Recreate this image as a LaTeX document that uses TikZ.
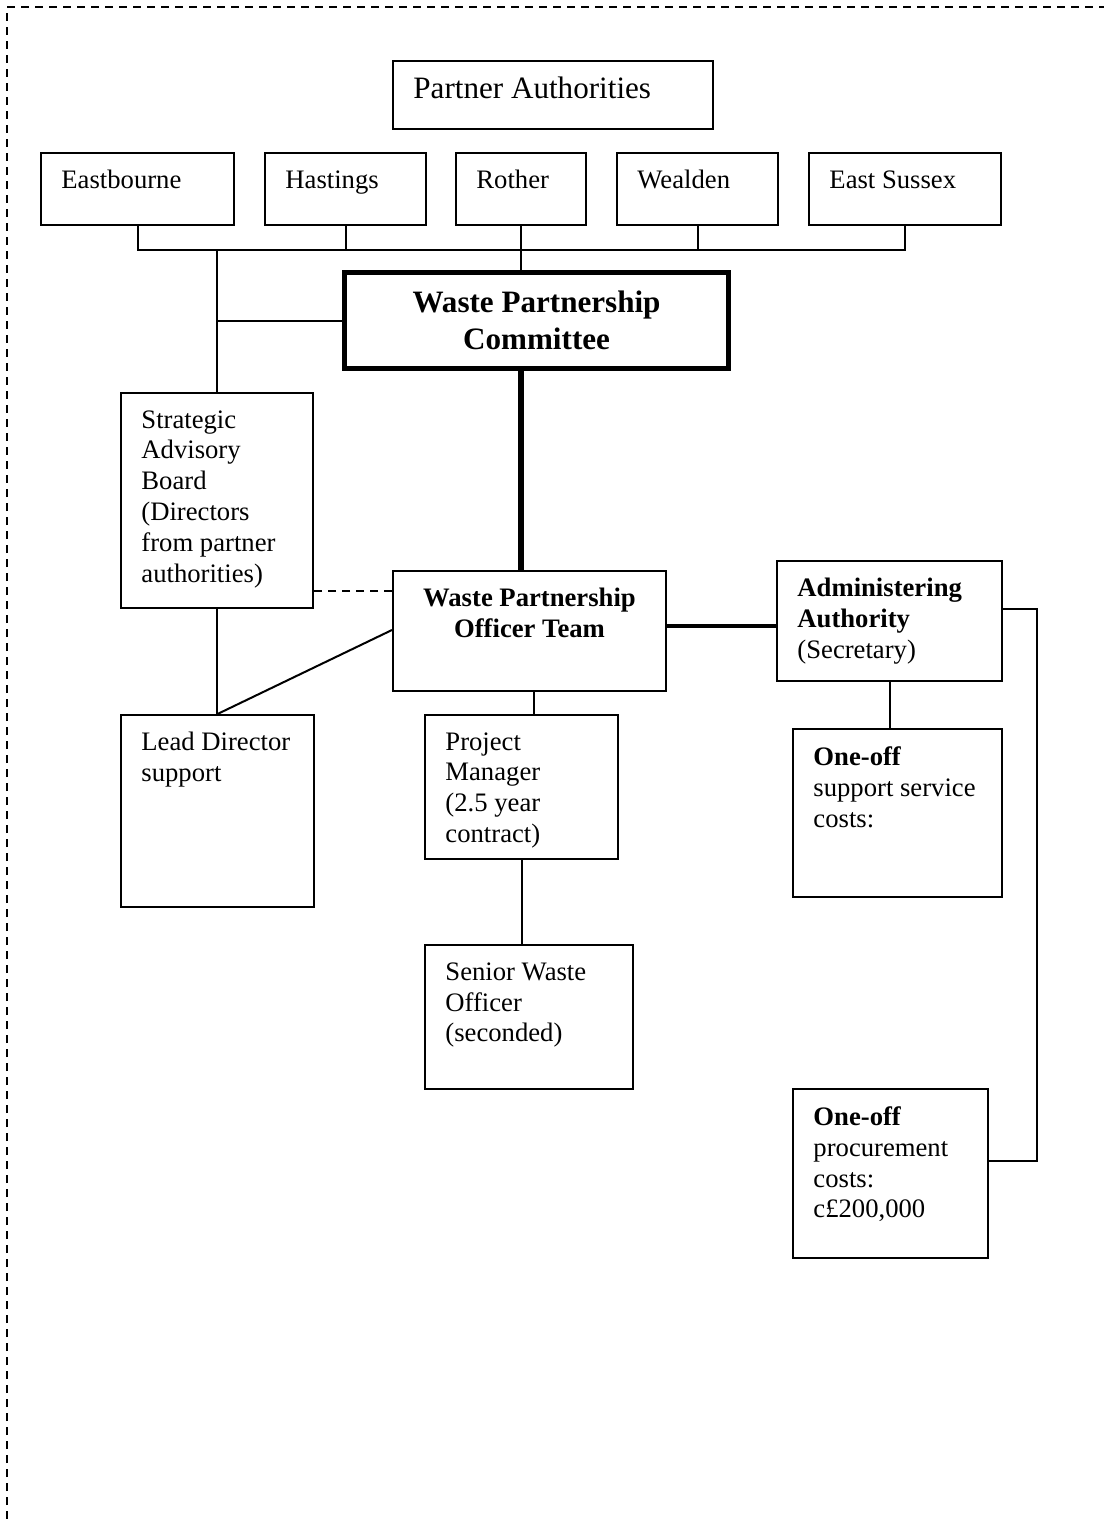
\documentclass[tikz,border=0pt]{standalone}
\usepackage{fontspec}
\setmainfont{Liberation Serif}
\usetikzlibrary{calc}

\begin{document}
\begin{tikzpicture}[
  x=0.45pt, y=-0.45pt,
  every node/.style={font=\fontsize{12}{13.9}\selectfont},
  orgbox/.style={draw, line width=0.9pt, anchor=north west, inner sep=0pt},
  sz/.style 2 args={minimum width=#1*0.45pt, minimum height=#2*0.45pt},
  txt/.style={anchor=north west, inner sep=0pt, align=left},
  conn/.style={line width=0.9pt},
  heavy/.style={line width=2.3pt},
  link/.style={line width=1.6pt},
  dashlink/.style={line width=0.9pt, dash pattern=on 3.4pt off 2.9pt},
]
\useasboundingbox (0,0) rectangle (1104,1519);

%% ── Page frame ────────────────────────────────────────────────────────────
\draw[dashlink] (7,1519) -- (7,7) -- (1104,7);

%% ── Partner authorities ───────────────────────────────────────────────────
\node[orgbox, sz={320}{68}] (partner) at (392,60) {};
\node[txt, font=\fontsize{14}{16.6}\selectfont] (partnertxt)
  at ($(partner.north west)+(21,16)$) {Partner Authorities};

\node[orgbox, sz={193}{72}] (eastb) at (40,152)  {};
\node[orgbox, sz={161}{72}] (hast)  at (264,152) {};
\node[orgbox, sz={130}{72}] (roth)  at (455,152) {};
\node[orgbox, sz={161}{72}] (weald) at (616,152) {};
\node[orgbox, sz={192}{72}] (esx)   at (808,152) {};
\node[txt] (eastbtxt) at ($(eastb.north west)+(21,18)$) {Eastbourne};
\node[txt] (hasttxt)  at ($(hast.north west)+(21,18)$)  {Hastings};
\node[txt] (rothtxt)  at ($(roth.north west)+(21,18)$)  {Rother};
\node[txt] (wealdtxt) at ($(weald.north west)+(21,18)$) {Wealden};
\node[txt] (esxtxt)   at ($(esx.north west)+(21,18)$)   {East Sussex};

%% ── Committee and officers ────────────────────────────────────────────────
\node[orgbox, line width=2.3pt, sz={384}{96}, align=center,
  font=\fontsize{14}{16.6}\selectfont\bfseries] (wpc) at (342,270)
  {Waste Partnership\\Committee};

\node[orgbox, sz={192}{215}] (sab)   at (120,392) {};
\node[orgbox, sz={273}{120}] (wpot)  at (392,570) {};
\node[orgbox, sz={225}{120}] (admin) at (776,560) {};
\node[orgbox, sz={193}{192}] (lead)  at (120,714) {};
\node[orgbox, sz={193}{144}] (pm)    at (424,714) {};
\node[orgbox, sz={209}{168}] (supp)  at (792,728) {};
\node[orgbox, sz={208}{144}] (swo)   at (424,944) {};
\node[orgbox, sz={195}{169}] (proc)  at (792,1088) {};

\node[txt] (sabtxt) at ($(sab.north west)+(21,18)$)
  {Strategic\\Advisory\\Board\\(Directors\\from partner\\authorities)};
\node[txt, anchor=north, align=center, font=\fontsize{12}{13.9}\selectfont\bfseries]
  (wpottxt) at ($(wpot.north)+(0,18)$) {Waste Partnership\\Officer Team};
\node[txt] (admintxt) at ($(admin.north west)+(21,18)$)
  {\textbf{Administering}\\\textbf{Authority}\\(Secretary)};
\node[txt] (leadtxt) at ($(lead.north west)+(21,18)$) {Lead Director\\support};
\node[txt] (pmtxt) at ($(pm.north west)+(21,18)$)
  {Project\\Manager\\(2.5 year\\contract)};
\node[txt] (supptxt) at ($(supp.north west)+(21,18)$)
  {\textbf{One-off}\\support service\\costs:};
\node[txt] (swotxt) at ($(swo.north west)+(21,18)$)
  {Senior Waste\\Officer\\(seconded)};
\node[txt] (proctxt) at ($(proc.north west)+(21,18)$)
  {\textbf{One-off}\\procurement\\costs:\\c£200,000};

%% ── Connectors ────────────────────────────────────────────────────────────
\coordinate (bus) at ($(eastb.south)+(0,24)$);
\draw[conn] (eastb.south) -- (bus) -| (esx.south);
\draw[conn] (hast.south) -- (hast.south |- bus);
\draw[conn] (weald.south) -- (weald.south |- bus);
\draw[conn] (roth.south) -- (roth.south |- wpc.north);
\draw[conn] (sab.north) -- (sab.north |- bus);
\draw[conn] (wpc.west) -- (wpc.west -| sab.north);

\draw[heavy] (roth.south |- wpc.south) -- (roth.south |- wpot.north);

\coordinate (dsh) at ($(wpot.north west)+(0,21)$);
\draw[dashlink] (dsh) -- (dsh -| sab.east);
\draw[conn] (sab.south) -- (sab.south |- lead.north);
\coordinate (diag) at ($(wpot.north west)+(0,60)$);
\draw[conn] (lead.north) -- (diag);

\draw[conn] ([xshift=2pt]wpot.south) -- ([xshift=2pt]wpot.south |- pm.north);
\draw[conn] (pm.south) -- (pm.south |- swo.north);
\draw[link] ([yshift=2.25pt]wpot.east) -- ([yshift=2.25pt]wpot.east -| admin.west);
\draw[conn] (admin.south) -- (admin.south |- supp.north);
\draw[conn] ([yshift=5.4pt]admin.east) -- ++(34,0) |- ([yshift=5.6pt]proc.east);

\end{tikzpicture}
\end{document}
